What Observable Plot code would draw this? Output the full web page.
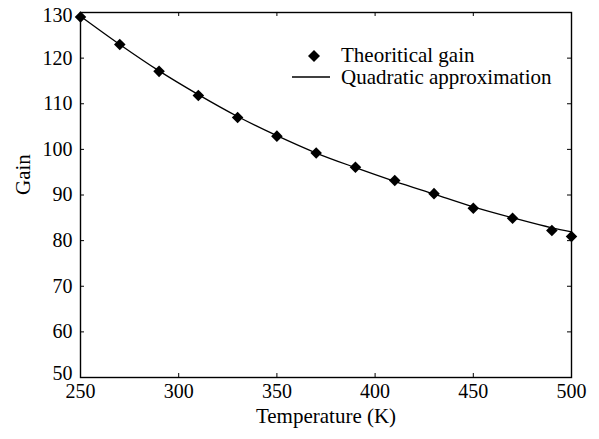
<!DOCTYPE html>
<html>
<head>
<meta charset="utf-8">
<script src="https://cdn.jsdelivr.net/npm/d3@7"></script>
<script src="https://cdn.jsdelivr.net/npm/@observablehq/plot@0.6"></script>
<style>
  body { margin: 0; background: white; }
  #wrap { position: relative; width: 599px; height: 439px; }
  #legend { position: absolute; left: 0; top: 0; pointer-events: none; }
</style>
</head>
<body>
<div id="wrap"></div>
<script>
const temperature = [250, 270, 290, 310, 330, 350, 370, 390, 410, 430, 450, 470, 490, 500];
const theoreticalGain = [129, 123, 117.1, 111.8, 107, 102.9, 99.2, 96.1, 93.2, 90.3, 87.1, 84.9, 82.2, 80.9];
const approxGain = [129.2, 123.0, 117.2, 112.0, 107.2, 103.0, 99.2, 96.0, 93.0, 90.2, 87.4, 85.0, 82.8, 81.9];
const xTicks = [250, 300, 350, 400, 450, 500];
const yTicks = [50, 60, 70, 80, 90, 100, 110, 120, 130];
const legendLabels = ["Theoritical gain", "Quadratic approximation"];
const xLabel = "Temperature (K)";
const yLabel = "Gain";

const FONT = "'Liberation Serif', 'Times New Roman', serif";
const W = 599, H = 439, mL = 80, mR = 28, mT = 12, mB = 62;
const pw = W - mL - mR, ph = H - mT - mB;

const pts = temperature.map((t, i) => ({t, g: theoreticalGain[i]}));
const fit = temperature.map((t, i) => ({t, g: approxGain[i]}));
const yMin = d3.min(yTicks), yMax = d3.max(yTicks);
const yMid = yTicks.filter(v => v !== yMin && v !== yMax);

const yAxisOpts = {tickSize: 0, tickPadding: 8, fontFamily: FONT, fontSize: 20, fontVariant: "normal", label: null};

const chart = Plot.plot({
  width: W, height: H,
  marginLeft: mL, marginRight: mR, marginTop: mT, marginBottom: mB,
  x: {domain: [250, 500]},
  y: {domain: [50, 130]},
  style: {fontFamily: FONT, fontSize: "20px", color: "black", background: "white"},
  marks: [
    Plot.axisX(xTicks, {tickSize: 0, tickPadding: 6, fontFamily: FONT, fontSize: 20, fontVariant: "normal", label: null}),
    Plot.axisY(yMid, yAxisOpts),
    Plot.axisY([yMin], {...yAxisOpts, dy: -4}),
    Plot.axisY([yMax], {...yAxisOpts, dy: 3}),
    Plot.text([xLabel], {text: d => d, frameAnchor: "bottom", dy: 45, lineAnchor: "bottom", fontFamily: FONT, fontSize: 21}),
    Plot.text([yLabel], {text: d => d, frameAnchor: "left", dx: -57, rotate: -90, lineAnchor: "middle", fontFamily: FONT, fontSize: 21}),
    Plot.tickX(xTicks, {x: d => d, insetTop: ph - 4, stroke: "black"}),
    Plot.tickX(xTicks, {x: d => d, insetBottom: ph - 4, stroke: "black"}),
    Plot.tickY(yTicks, {y: d => d, insetRight: pw - 4, stroke: "black"}),
    Plot.tickY(yTicks, {y: d => d, insetLeft: pw - 4, stroke: "black"}),
    Plot.line(fit, {x: "t", y: "g", curve: "monotone-x", stroke: "black", strokeWidth: 1.3}),
    Plot.dot(pts, {x: "t", y: "g", symbol: "diamond2", r: 5.2, fill: "black", stroke: "none"}),
    Plot.frame({stroke: "black", strokeWidth: 1.4})
  ]
});
const wrap = document.getElementById("wrap");
wrap.appendChild(chart);

const leg = d3.create("svg").attr("id", "legend").attr("width", W).attr("height", H)
  .style("font-family", FONT).style("font-size", "21px");
leg.append("path").attr("d", "M314 50 L320 56 L314 62 L308 56 Z").attr("fill", "black");
leg.append("text").attr("x", 341).attr("y", 62).text(legendLabels[0]);
leg.append("line").attr("x1", 292).attr("x2", 330).attr("y1", 77).attr("y2", 77).attr("stroke", "black").attr("stroke-width", 1.3);
leg.append("text").attr("x", 341).attr("y", 84).text(legendLabels[1]);
wrap.appendChild(leg.node());
</script>
</body>
</html>
